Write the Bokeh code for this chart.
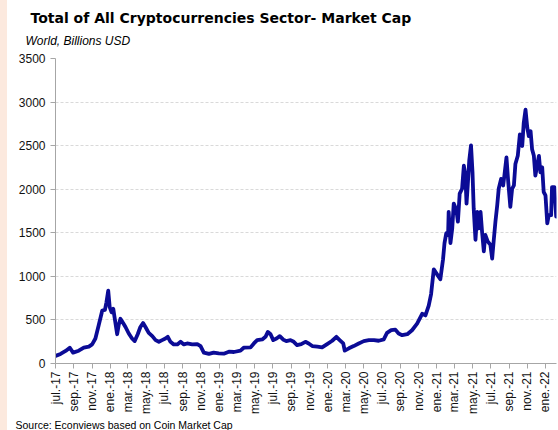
import pandas as pd
from math import pi
from bokeh.plotting import figure
from bokeh.models import FixedTicker, CustomJSTickFormatter, Title, Range1d, Div, ColumnDataSource
from bokeh.layouts import row
from bokeh.embed import file_html
from bokeh.resources import INLINE

title_text = "Total of All Cryptocurrencies Sector- Market Cap"
subtitle_text = "World, Billions USD"
source_text = "Source: Econviews based on Coin Market Cap"

dates = [
    "2017-07-01", "2017-07-18", "2017-08-04", "2017-08-18", "2017-08-29", "2017-09-17",
    "2017-10-04", "2017-10-21", "2017-11-01", "2017-11-12", "2017-11-23", "2017-12-05",
    "2017-12-14", "2017-12-19", "2017-12-25", "2017-12-30", "2018-01-05", "2018-01-11",
    "2018-01-16", "2018-01-24", "2018-01-29", "2018-02-04", "2018-02-13", "2018-02-21",
    "2018-03-04", "2018-03-15", "2018-03-24", "2018-04-03", "2018-04-12", "2018-04-21",
    "2018-04-29", "2018-05-10", "2018-05-22", "2018-06-02", "2018-06-13", "2018-06-24",
    "2018-07-05", "2018-07-13", "2018-07-22", "2018-08-02", "2018-08-14", "2018-08-25",
    "2018-09-05", "2018-09-16", "2018-10-03", "2018-10-20", "2018-10-31", "2018-11-11",
    "2018-11-28", "2018-12-14", "2018-12-31", "2019-01-17", "2019-02-03", "2019-02-20",
    "2019-03-14", "2019-03-25", "2019-04-17", "2019-04-28", "2019-05-09", "2019-05-26",
    "2019-06-06", "2019-06-14", "2019-06-23", "2019-07-02", "2019-07-13", "2019-07-24",
    "2019-08-04", "2019-08-15", "2019-08-29", "2019-09-09", "2019-09-20", "2019-10-04",
    "2019-10-18", "2019-10-29", "2019-11-10", "2019-11-27", "2019-12-13", "2019-12-30",
    "2020-01-16", "2020-01-30", "2020-02-10", "2020-02-22", "2020-02-27", "2020-03-12",
    "2020-03-28", "2020-04-14", "2020-05-01", "2020-05-18", "2020-06-04", "2020-06-20",
    "2020-07-07", "2020-07-18", "2020-08-01", "2020-08-15", "2020-08-26", "2020-09-07",
    "2020-09-24", "2020-10-10", "2020-10-27", "2020-11-13", "2020-11-24", "2020-12-05",
    "2020-12-13", "2020-12-22", "2021-01-02", "2021-01-13", "2021-01-22", "2021-01-27",
    "2021-02-02", "2021-02-08", "2021-02-10", "2021-02-16", "2021-02-22", "2021-02-27",
    "2021-03-08", "2021-03-13", "2021-03-19", "2021-03-27", "2021-04-02", "2021-04-07",
    "2021-04-11", "2021-04-15", "2021-04-20", "2021-04-26", "2021-05-01", "2021-05-05",
    "2021-05-11", "2021-05-17", "2021-05-22", "2021-05-28", "2021-06-02", "2021-06-08",
    "2021-06-13", "2021-06-21", "2021-06-30", "2021-07-06", "2021-07-11", "2021-07-17",
    "2021-07-23", "2021-07-28", "2021-08-05", "2021-08-12", "2021-08-16", "2021-08-23",
    "2021-08-29", "2021-09-05", "2021-09-11", "2021-09-17", "2021-09-22", "2021-09-30",
    "2021-10-07", "2021-10-15", "2021-10-20", "2021-10-26", "2021-11-01", "2021-11-06",
    "2021-11-12", "2021-11-17", "2021-11-23", "2021-11-28", "2021-12-04", "2021-12-10",
    "2021-12-15", "2021-12-21", "2021-12-26", "2022-01-01", "2022-01-07", "2022-01-12",
    "2022-01-20", "2022-01-23", "2022-01-31", "2022-02-06",
]

market_cap = [
    87, 110, 144, 181, 125, 147,
    181, 193, 219, 287, 438, 608,
    615, 702, 835, 646, 589, 627,
    513, 336, 438, 513, 465, 419,
    344, 287, 257, 336, 419, 465,
    419, 351, 314, 268, 249, 268,
    287, 306, 249, 219, 219, 249,
    219, 230, 219, 223, 200, 125,
    110, 125, 117, 113, 136, 132,
    147, 181, 185, 230, 268, 276,
    306, 363, 336, 268, 287, 314,
    276, 257, 268, 249, 212, 223,
    249, 230, 200, 193, 185, 223,
    261, 306, 268, 230, 147, 174,
    200, 230, 257, 268, 268, 261,
    276, 351, 382, 389, 344, 325,
    336, 382, 457, 570, 552, 665,
    797, 1080, 1023, 966, 1193, 1382,
    1496, 1476, 1741, 1382, 1552, 1835,
    1760, 1628, 1949, 2005, 2270, 2156,
    1835, 2043, 2326, 2504, 2194, 1779,
    1420, 1741, 1552, 1741, 1515, 1288,
    1476, 1402, 1363, 1204, 1402, 1628,
    1816, 2005, 2119, 2043, 2156, 2365,
    2081, 1798, 2005, 2043, 2289, 2383,
    2629, 2496, 2761, 2912, 2704, 2609,
    2666, 2459, 2383, 2156, 2270, 2383,
    2194, 2251, 1968, 1930, 1609, 1703,
    1703, 2025, 2025, 1685,
]

y_ticks = [0, 500, 1000, 1500, 2000, 2500, 3000, 3500]
x_tick_dates = [
    "2017-07-01", "2017-09-01", "2017-11-01", "2018-01-01", "2018-03-01", "2018-05-01",
    "2018-07-01", "2018-09-01", "2018-11-01", "2019-01-01", "2019-03-01", "2019-05-01",
    "2019-07-01", "2019-09-01", "2019-11-01", "2020-01-01", "2020-03-01", "2020-05-01",
    "2020-07-01", "2020-09-01", "2020-11-01", "2021-01-01", "2021-03-01", "2021-05-01",
    "2021-07-01", "2021-09-01", "2021-11-01", "2022-01-01",
]
month_names = ["ene.", "feb.", "mar.", "abr.", "may.", "jun.",
               "jul.", "ago.", "sep.", "oct.", "nov.", "dic."]

LINE_COLOR = "#0b0b96"
AXIS_COLOR = "#a6a6a6"
GRID_COLOR = "#d9d9d9"
FONT = "Liberation Sans"
STRIP_W = 7

src = ColumnDataSource(dict(date=pd.to_datetime(dates), value=market_cap))

p = figure(
    width=558 - STRIP_W, height=430, output_backend="svg", toolbar_location=None,
    x_axis_type="datetime",
    x_range=Range1d(pd.Timestamp("2017-07-01"), pd.Timestamp("2022-02-07")),
    y_range=Range1d(0, 3500),
    min_border_left=55 - STRIP_W, min_border_right=2, min_border_top=58, min_border_bottom=63,
)
p.outline_line_color = None
p.background_fill_color = "white"
p.border_fill_color = "white"

p.line("date", "value", source=src, line_color=LINE_COLOR, line_width=3.8,
       line_join="round", line_cap="round")

# x axis
tick_ms = [float(t) for t in (pd.to_datetime(x_tick_dates).astype("int64") // 10**6)]
p.xaxis.ticker = FixedTicker(ticks=tick_ms)
p.xaxis.formatter = CustomJSTickFormatter(args=dict(names=month_names), code="""
    const d = new Date(tick);
    return names[d.getUTCMonth()] + "-" + String(d.getUTCFullYear()).slice(2);
""")
p.xaxis.major_label_orientation = pi / 2
p.xaxis.minor_tick_line_color = None
p.xaxis.major_tick_out = 5
p.xaxis.major_tick_in = 0
p.xaxis.axis_line_color = AXIS_COLOR
p.xaxis.major_tick_line_color = AXIS_COLOR
p.xaxis.major_label_text_font = FONT
p.xaxis.major_label_text_font_size = "12px"
p.xaxis.major_label_text_color = "#111111"
p.xaxis.major_label_standoff = 3

# y axis
p.yaxis.ticker = FixedTicker(ticks=y_ticks)
p.yaxis.minor_tick_line_color = None
p.yaxis.major_tick_out = 5
p.yaxis.major_tick_in = 0
p.yaxis.axis_line_color = AXIS_COLOR
p.yaxis.major_tick_line_color = AXIS_COLOR
p.yaxis.major_label_text_font = FONT
p.yaxis.major_label_text_font_size = "12px"
p.yaxis.major_label_text_color = "#111111"
p.yaxis.major_label_standoff = 5

p.xgrid.grid_line_color = None
p.ygrid.grid_line_color = GRID_COLOR
p.ygrid.grid_line_dash = "3 2"
p.ygrid.grid_line_width = 1

# titles
p.add_layout(Title(text=subtitle_text, align="left", offset=-30, standoff=21,
                   text_font=FONT, text_font_style="italic", text_font_size="12px",
                   text_color="black"), "above")
p.add_layout(Title(text=title_text, align="left", offset=-25, standoff=-9,
                   text_font="DejaVu Sans", text_font_style="bold", text_font_size="14px",
                   text_color="black"), "above")
p.add_layout(Title(text=source_text, align="left", offset=-40, standoff=0,
                   text_font=FONT, text_font_style="normal", text_font_size="10.5px",
                   text_color="black"), "below")

strip = Div(width=STRIP_W, height=430, margin=0, styles={"background-color": "#fce9de"})
layout = row(strip, p, spacing=0)

open("out.html", "w").write(file_html(layout, INLINE))
